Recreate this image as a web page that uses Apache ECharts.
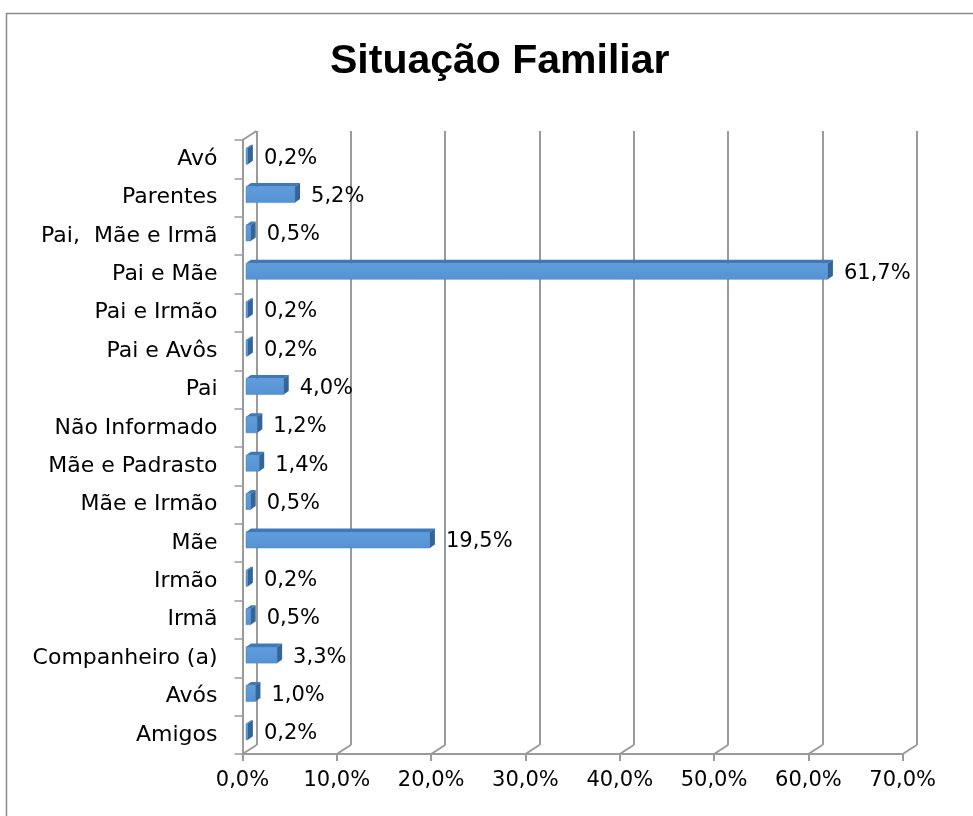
<!DOCTYPE html>
<html>
<head>
<meta charset="utf-8">
<script src="https://cdn.jsdelivr.net/npm/echarts@6/dist/echarts.min.js"></script>
<style>html,body{margin:0;padding:0;background:#fff}#c{width:973px;height:816px}</style>
</head>
<body>
<div id="c"></div>
<script>
var categories = ['Avó','Parentes','Pai,  Mãe e Irmã','Pai e Mãe','Pai e Irmão','Pai e Avôs','Pai','Não Informado','Mãe e Padrasto','Mãe e Irmão','Mãe','Irmão','Irmã','Companheiro (a)','Avós','Amigos'];
var values = [0.2,5.2,0.5,61.7,0.2,0.2,4.0,1.2,1.4,0.5,19.5,0.2,0.5,3.3,1.0,0.2];
var xTicks = [0,10,20,30,40,50,60,70];
var titleText = 'Situação Familiar';

function pct(v){ return v.toFixed(1).replace('.', ',') + '%'; }

var FONT = 'DejaVu Sans';
var GRID_COLOR = '#9a9a9a';
var DX = 14, DY = -9;

var chart = echarts.init(document.getElementById('c'), null, {renderer:'canvas'});
chart.setOption({
  backgroundColor:'#fff',
  animation:false,
  title:{text:titleText,left:325,top:36,textStyle:{fontFamily:'Liberation Sans',fontWeight:'bold',fontSize:41,color:'#000'}},
  graphic:[{type:'rect',left:4,top:11,shape:{width:1000,height:900},style:{fill:'none',stroke:'#8a8a8a',lineWidth:1.5},silent:true,z:-10}],
  grid:[
    {left:242.5,right:70.3,top:140,bottom:62},
    {left:256.5,right:56.3,top:131,bottom:71}
  ],
  xAxis:[
    {gridIndex:0,type:'value',min:0,max:70,interval:10,
     axisLine:{show:true,lineStyle:{color:GRID_COLOR,width:2}},
     axisTick:{show:true,length:7,lineStyle:{color:GRID_COLOR,width:2}},
     splitLine:{show:false},
     axisLabel:{formatter:function(v){return pct(v);},fontFamily:FONT,fontSize:21,color:'#000',margin:16}},
    {gridIndex:1,type:'value',min:0,max:70,interval:10,
     axisLine:{show:false},axisTick:{show:false},axisLabel:{show:false},
     splitLine:{show:true,lineStyle:{color:GRID_COLOR,width:2}}}
  ],
  yAxis:[
    {gridIndex:0,type:'category',data:categories,inverse:true,
     axisLine:{show:true,lineStyle:{color:GRID_COLOR,width:2}},
     axisTick:{show:true,length:8,lineStyle:{color:GRID_COLOR,width:1.5}},
     axisLabel:{fontFamily:FONT,fontSize:22,color:'#000',margin:25}},
    {gridIndex:1,type:'category',data:categories,inverse:true,show:false}
  ],
  series:[
    {
      type:'custom',xAxisIndex:0,yAxisIndex:0,z:1,silent:true,
      data:xTicks.map(function(t){return [t,0];}),
      encode:{x:0,y:1},
      renderItem:function(params,api){
        var p = api.coord([api.value(0),0]);
        var cs = params.coordSys;
        var yb = cs.y + cs.height;
        var children = [{type:'line',shape:{x1:p[0],y1:yb,x2:p[0]+DX,y2:yb+DY},style:{stroke:GRID_COLOR,lineWidth:2}}];
        if (api.value(0) === 0) {
          children.push({type:'line',shape:{x1:p[0],y1:cs.y,x2:p[0]+DX,y2:cs.y+DY},style:{stroke:GRID_COLOR,lineWidth:2}});
        }
        return {type:'group',children:children};
      }
    },
    {
      type:'custom',xAxisIndex:0,yAxisIndex:0,z:5,silent:true,
      data:values.map(function(v,i){return [v,i];}),
      encode:{x:0,y:1},
      renderItem:function(params,api){
        var v = api.value(0), i = api.value(1);
        var s = api.coord([0,i]);
        var e = api.coord([v,i]);
        var band = api.size([0,1])[1];
        var h = band*0.42;
        var ox = 3.5, oy = -3;
        var x0 = s[0]+ox, x1 = e[0]+ox;
        var cy = s[1]+oy;
        var yT = cy-h/2, yB = cy+h/2;
        var d = 5, d2 = 3.5;
        return {type:'group',children:[
          {type:'polygon',shape:{points:[[x0,yT],[x0+d,yT-d2],[x1+d,yT-d2],[x1,yT]]},style:{fill:'#3f78b6'}},
          {type:'rect',shape:{x:x0,y:yT,width:x1-x0,height:h},
           style:{fill:new echarts.graphic.LinearGradient(0,0,0,1,[{offset:0,color:'#5f9ddc'},{offset:1,color:'#5592d2'}]),stroke:'#4a84c0',lineWidth:0.5}},
          {type:'polygon',shape:{points:[[x1,yT],[x1+d,yT-d2],[x1+d,yB-d2],[x1,yB]]},style:{fill:'#34659a'}},
          {type:'text',style:{text:pct(v),x:x1+16,y:s[1]-1,align:'left',verticalAlign:'middle',fontFamily:FONT,fontSize:21,fill:'#000'}}
        ]};
      }
    }
  ]
});
</script>
</body>
</html>
